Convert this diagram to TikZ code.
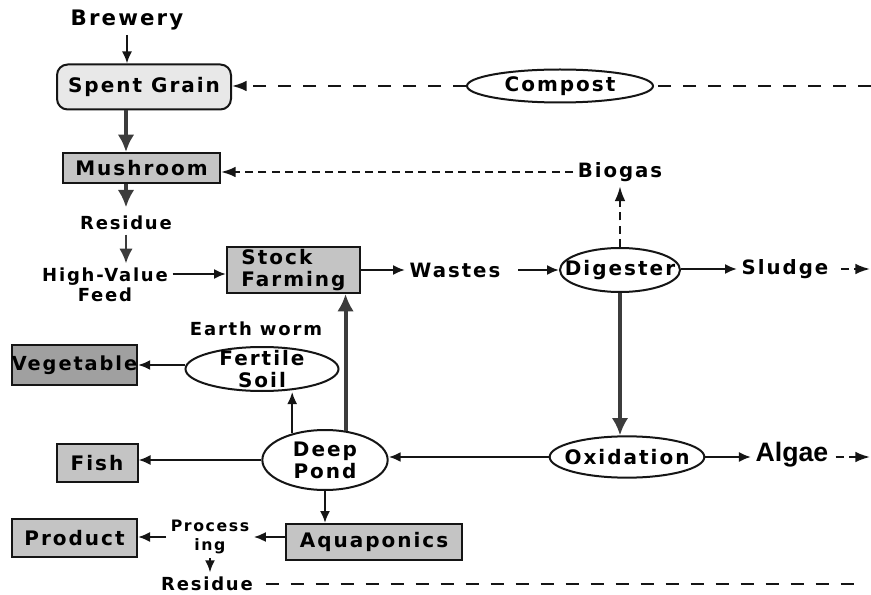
\documentclass[tikz,border=0pt]{standalone}
\usepackage{fontspec}
\setmainfont{DejaVu Sans}[LetterSpace=10]
\newfontfamily\algfont{Liberation Sans}
\usetikzlibrary{arrows.meta,shapes.geometric}
\definecolor{lightbox}{HTML}{E8E8E8}
\definecolor{midbox}{HTML}{C4C4C4}
\definecolor{darkbox}{HTML}{A0A0A0}
\definecolor{ink}{HTML}{151515}
\definecolor{heavyink}{HTML}{3C3C3C}
\begin{document}
\begin{tikzpicture}[x=0.75pt,y=-0.75pt,
  fbig/.style={font=\bfseries\fontsize{15}{16.5}\selectfont},
  fmid/.style={font=\bfseries\fontsize{14.8}{16}\selectfont},
  fsmall/.style={font=\bfseries\fontsize{13.5}{15}\selectfont},
  ftiny/.style={font=\bfseries\fontsize{11.8}{14}\selectfont},
  box/.style={draw=ink, line width=1.5pt, fill=midbox, inner sep=0pt, fbig},
  oval/.style={ellipse, draw=ink, line width=1.5pt, fill=white, inner sep=0pt},
  arr/.style={draw=ink, line width=1.5pt, -{Latex[length=9pt,width=7.5pt]}},
  grayarr/.style={draw=heavyink, line width=1.5pt, -{Latex[length=11pt,width=10pt]}},
  heavy/.style={draw=heavyink, line width=3pt, -{Latex[length=13pt,width=12.5pt]}},
  dline/.style={draw=ink, line width=1.5pt, dash pattern=on 9.75pt off 9pt},
  dsmall/.style={draw=ink, line width=1.5pt, dash pattern=on 6pt off 4pt},
  dtip/.style={-{Latex[length=11pt,width=8pt]}}
]
\useasboundingbox (0,0) rectangle (871,595);

% ---------- nodes ----------
\node[font=\bfseries\fontsize{16}{18}\selectfont] (brew) at (127,20) {Brewery};
\node[box, fill=lightbox, rounded corners=8pt, minimum width=130.5pt, minimum height=33.75pt] (sg) at (144,87) {Spent Grain};
\node[box, minimum width=117.75pt, minimum height=22.5pt] (mush) at (141.5,168) {Mushroom};
\node[fsmall] (resa) at (126,223) {Residue};
\node[fsmall, align=center] (hv) at (105,285) {High-Value\\Feed};
\node[box, align=left, minimum width=99.75pt, minimum height=34.5pt] (sf) at (293.5,270) {Stock\\Farming};
\node[fmid] (wst) at (455,270) {Wastes};
\node[oval, minimum width=90pt, minimum height=33pt, label={[fbig]center:Digester}] (dig) at (620,270) {};
\node[fmid] (sl) at (785,269) {Sludge};
\node[fmid] (bio) at (620,172) {Biogas};
\node[oval, minimum width=139.5pt, minimum height=24.75pt, label={[fbig]center:Compost}] (comp) at (560,86) {};
\node[oval, minimum width=116pt, minimum height=31pt, label={[fbig]center:Oxidation}] (ox) at (627,457) {};
\node[font=\algfont\bfseries\fontsize{20}{22}\selectfont] (alg) at (792,455) {Algae};
\node[oval, minimum width=94pt, minimum height=45pt, label={[fbig, align=center]center:{Deep\\Pond}}] (pond) at (325,460) {};
\node[fsmall] (ew) at (256,329) {Earth worm};
\node[oval, minimum width=114.75pt, minimum height=33pt, label={[fbig, align=center]center:{Fertile\\Soil}}] (fs) at (262,369) {};
\node[box, fill=darkbox, font=\bfseries\fontsize{14.5}{16}\selectfont, minimum width=92.25pt, minimum height=30pt] (veg) at (74.5,365) {Vegetable};
\node[box, minimum width=60.75pt, minimum height=28.5pt] (fish) at (97,463) {Fish};
\node[box, minimum width=132pt, minimum height=27pt] (aq) at (374,542) {Aquaponics};
\node[ftiny, align=center] (proc) at (210,537) {Process\\ing};
\node[box, minimum width=93.75pt, minimum height=28.5pt] (prod) at (74.5,538) {Product};
\node[fsmall] (resb) at (207,584) {Residue};

% helper coordinates
\coordinate (cx) at (126,0);
\coordinate (compR) at (871,86);
\coordinate (slR) at (870,269);
\coordinate (algR) at (870,457);
\coordinate (resR) at (860,586);

% ---------- connectors ----------
\draw[arr] (brew.south) -- (sg.north -| brew.south);
\draw[heavy] (sg.south -| cx) -- (mush.north -| cx);
\draw[heavy] (mush.south -| cx) -- ([yshift=3pt]resa.north -| cx);
\draw[grayarr] (resa.south -| cx) -- (hv.north -| cx);
\draw[arr] ([yshift=8.25pt]hv.east) -- ([yshift=8.25pt]hv.east -| sf.west);
\draw[arr] (sf.east) -- (wst.west);
\draw[arr, shorten <=10pt] (wst.east) -- (wst.east -| dig.west);
\draw[arr] (dig.east |- sl.west) -- (sl.west);
\draw[dsmall, dtip, shorten <=6pt] (sl.east) -- (slR);
\draw[dsmall, dtip] (dig.north) -- (bio.south -| dig.north);
\draw[dsmall, dtip] (bio.west) -- (bio.west -| mush.east);
\draw[dline] (compR) -- (comp.east);
\draw[dline, dtip] (comp.west) -- (comp.west -| sg.east);
\draw[heavy] (dig.south) -- (dig.south |- ox.north);
\draw[arr] (ox.east) -- (ox.east -| alg.west);
\draw[dsmall, dtip, shorten <=2pt] (alg.east |- algR) -- (algR);
\draw[arr, line width=2pt] (ox.west) -- (ox.west -| pond.east);
\draw[arr] (pond.west) -- (pond.west -| fish.east);
\draw[arr] (pond.141) -- (pond.141 |- fs.south);
\draw[heavy] (pond.55) -- (pond.55 |- sf.south);
\draw[arr] (fs.west |- veg.east) -- (veg.east);
\draw[arr] (pond.south) -- (pond.south |- aq.north);
\draw[arr] (aq.west |- proc.east) -- (proc.east);
\draw[arr] (proc.west) -- (proc.west -| prod.east);
\draw[arr] (proc.south) -- (resb.north -| proc.south);
\draw[dline, shorten <=6pt] (resb.east) -- (resb.east -| resR);
\end{tikzpicture}
\end{document}
